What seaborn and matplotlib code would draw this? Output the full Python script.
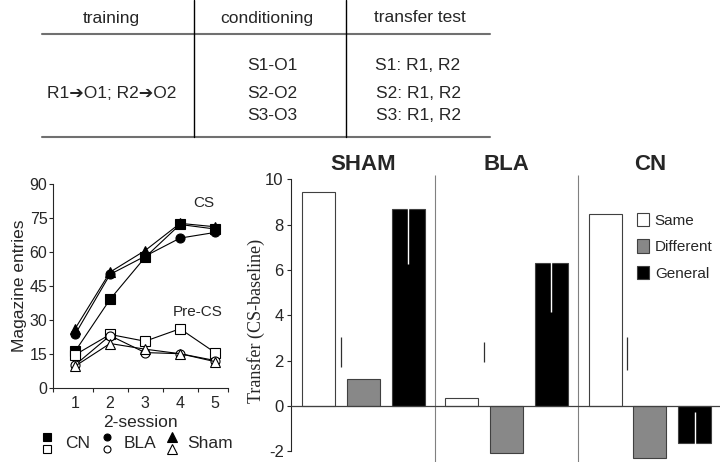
import numpy as np
import pandas as pd
import seaborn as sns
import matplotlib.pyplot as plt
from matplotlib.lines import Line2D
from matplotlib.patches import Patch

sns.set_style('ticks')
plt.rcParams['font.family'] = ['Liberation Sans', 'DejaVu Sans']
plt.rcParams['axes.unicode_minus'] = False

# design table
table_header = ['training', 'conditioning', 'transfer test']
training_rows = ['R1\u2794O1; R2\u2794O2']
conditioning_rows = ['S1-O1', 'S2-O2', 'S3-O3']
transfer_rows = ['S1: R1, R2', 'S2: R1, R2', 'S3: R1, R2']

# magazine entries per 2-session block
sessions = [1, 2, 3, 4, 5]
cs_cn = [16, 39, 57.5, 72, 70]
cs_bla = [23.5, 50, 58, 66, 68.5]
cs_sham = [26, 51, 60.5, 72.5, 71]
pre_cn = [14.5, 23.5, 20.5, 26, 15.5]
pre_bla = [10, 23, 15.5, 15, 12]
pre_sham = [9.5, 19.5, 17, 15, 11.5]

# transfer scores
groups = ['SHAM', 'BLA', 'CN']
kinds = ['Same', 'Different', 'General']
transfer_sham = [9.43, 1.19, 8.7]
transfer_bla = [0.34, -2.09, 6.3]
transfer_cn = [8.46, -2.31, -1.65]
general_err = [2.45, 2.18, 1.37]
side_err_lo = [1.7, 1.93, 1.59]
side_err_hi = [3.03, 2.8, 3.03]

fig = plt.figure(figsize=(7.2, 4.62), dpi=100)

# ---- table on top ----
line_kw = dict(color='#707070', lw=1.5, transform=fig.transFigure)
fig.add_artist(Line2D([0.058, 0.681], [0.926, 0.926], **line_kw))
fig.add_artist(Line2D([0.058, 0.681], [0.7035, 0.7035], **line_kw))
fig.add_artist(Line2D([0.2694, 0.2694], [1.0, 0.7035], color='black', lw=1.0, transform=fig.transFigure))
fig.add_artist(Line2D([0.4806, 0.4806], [1.0, 0.7035], color='black', lw=1.0, transform=fig.transFigure))

tsize = 12.5
for label, xc in zip(table_header, [111, 267, 420]):
    fig.text(xc / 720, 1 - 18 / 462, label, ha='center', va='center', fontsize=tsize)
fig.text(112 / 720, 1 - 94 / 462, training_rows[0], ha='center', va='center', fontsize=tsize)
for i, yc in enumerate([66, 93, 115]):
    fig.text(272 / 720, 1 - yc / 462, conditioning_rows[i], ha='center', va='center', fontsize=tsize)
    fig.text(418 / 720, 1 - yc / 462, transfer_rows[i], ha='center', va='center', fontsize=tsize)

# ---- left: magazine entries ----
ax1 = fig.add_axes([0.0736, 0.1608, 0.2431, 0.4416])
series = [
    (cs_cn, 's', 'black', 6.5), (cs_bla, 'o', 'black', 6.5), (cs_sham, '^', 'black', 7.5),
    (pre_cn, 's', 'white', 6.5), (pre_bla, 'o', 'white', 6.5), (pre_sham, '^', 'white', 7.5),
]
for vals, mk, fc, ms in series:
    sns.lineplot(x=sessions, y=vals, ax=ax1, color='black', lw=0.8, marker=mk,
                 markerfacecolor=fc, markeredgecolor='black', markeredgewidth=0.8,
                 markersize=ms)
ax1.set_xlim(0.37, 5.37)
ax1.set_ylim(0, 90)
ax1.set_yticks(np.arange(0, 91, 15))
ax1.set_xticks(sessions)
ax1.set_xticks([0.37, 1.5, 2.5, 3.5, 4.5, 5.37], minor=True)
ax1.tick_params(axis='x', which='major', length=0, labelsize=11.5, pad=6)
ax1.tick_params(axis='x', which='minor', length=3, width=0.8)
ax1.tick_params(axis='y', length=3, width=0.8, labelsize=11.5, pad=1)
sns.despine(ax=ax1)
for s in ['left', 'bottom']:
    ax1.spines[s].set_linewidth(0.8)
ax1.set_xlabel('2-session', fontsize=12.5, labelpad=3)
ax1.set_ylabel('Magazine entries', fontsize=12.5, labelpad=2)
ax1.text(4.69, 81.5, 'CS', ha='center', va='center', fontsize=11)
ax1.text(4.49, 33.4, 'Pre-CS', ha='center', va='center', fontsize=11)

# legend under the line chart
mk_kw = dict(color='black', transform=fig.transFigure, markeredgewidth=0.8)
for xm, mk, ms, name, xt in [(47, 's', 5.5, 'CN', 65), (107, 'o', 5, 'BLA', 124), (172, '^', 6.5, 'Sham', 187)]:
    fig.add_artist(Line2D([xm / 720], [1 - 437 / 462], marker=mk, markersize=ms,
                          markerfacecolor='black', **mk_kw))
    fig.add_artist(Line2D([xm / 720], [1 - 449 / 462], marker=mk, markersize=ms,
                          markerfacecolor='white', **mk_kw))
    fig.text(xt / 720, 1 - 444 / 462, name, ha='left', va='center', fontsize=12.5)

# ---- right: transfer bars ----
ax2 = fig.add_axes([0.4037, 0.0, 0.5963, 0.612])
group_gap = 3.2
rows = []
for gi, vals in enumerate([transfer_sham, transfer_bla, transfer_cn]):
    for ki, v in enumerate(vals):
        rows.append(dict(group=groups[gi], kind=kinds[ki], pos=gi * group_gap + ki, value=v))
df = pd.DataFrame(rows)
palette = {'Same': 'white', 'Different': '#888888', 'General': 'black'}
sns.barplot(data=df, x='pos', y='value', hue='kind', palette=palette, native_scale=True,
            dodge=False, width=0.74, edgecolor='#404040', linewidth=0.8,
            errorbar=None, legend=False, ax=ax2)

gen = df[df['kind'] == 'General']
ax2.vlines(gen['pos'], gen['value'] - np.array(general_err), gen['value'] + np.array(general_err),
           color='white', lw=1.0, zorder=5)
same = df[df['kind'] == 'Same']
ax2.vlines(same['pos'] + 0.5, side_err_lo, side_err_hi, color='#303030', lw=0.9, zorder=5)

ax2.set_xlim(-0.63, 8.97)
ax2.set_ylim(-2.48, 10)
ax2.set_yticks(np.arange(-2, 11, 2))
ax2.spines['left'].set_bounds(-2, 10)
ax2.set_xticks([])
ax2.axhline(0, color='#404040', lw=0.9, zorder=4)
for xs in [2.6, 5.8]:
    ax2.vlines(xs, -2.48, 10.19, color='#808080', lw=0.8, clip_on=False)
sns.despine(ax=ax2, bottom=True)
ax2.spines['left'].set_linewidth(0.8)
ax2.tick_params(axis='y', length=3, width=0.8, labelsize=12, pad=2)
ax2.set_xlabel('')
ax2.set_ylabel('Transfer (CS-baseline)', fontsize=13, family=['Liberation Serif', 'DejaVu Serif'], labelpad=0)
for gi, g in enumerate(groups):
    ax2.text(gi * group_gap + 1, 10.63, g, ha='center', va='center', fontsize=16,
             fontweight='bold', clip_on=False)

handles = [Patch(facecolor=palette[k], edgecolor='#404040', linewidth=0.8, label=k) for k in kinds]
ax2.legend(handles=handles, frameon=False, loc='upper left', bbox_to_anchor=(0.885, 0.54),
           bbox_transform=fig.transFigure, fontsize=11, handlelength=0.8, handleheight=1.0,
           handletextpad=0.35, labelspacing=0.75, borderpad=0, borderaxespad=0)

fig.savefig('out.png', dpi=100)
